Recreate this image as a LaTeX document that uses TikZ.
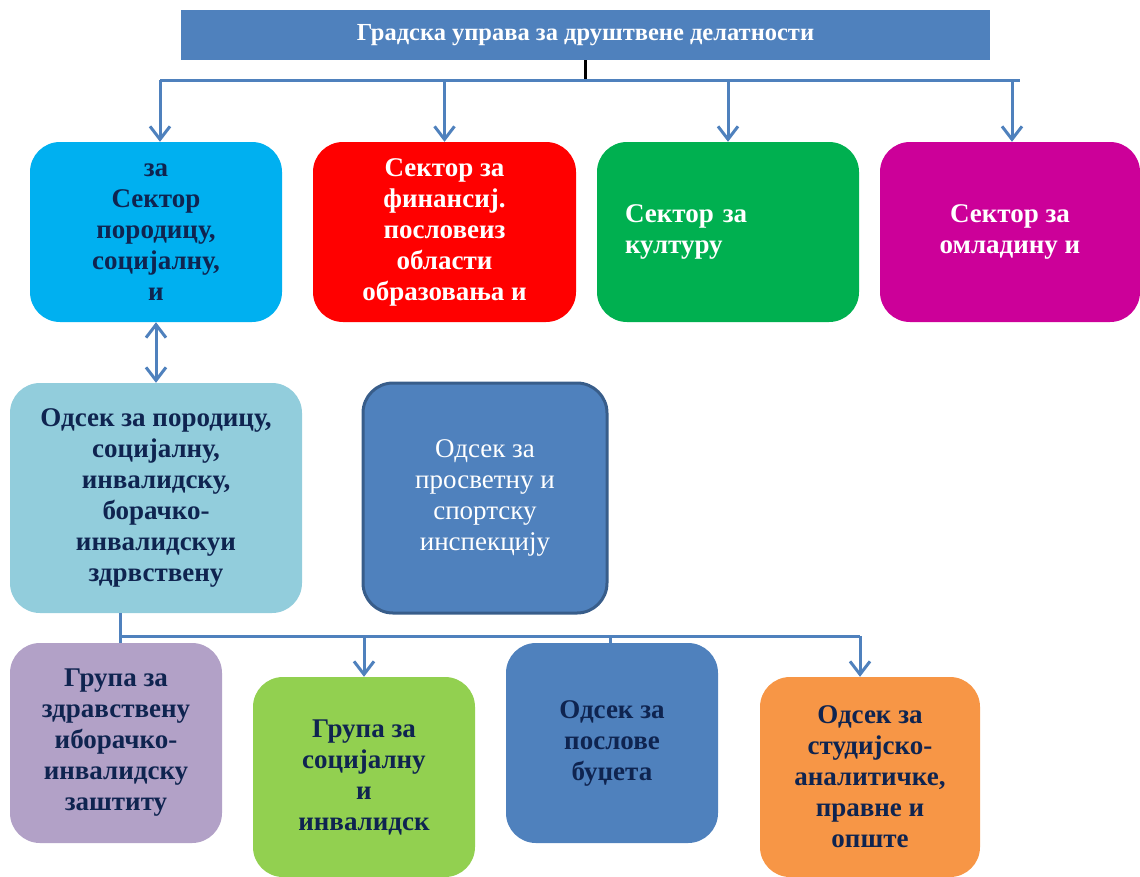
\documentclass[tikz,border=0pt]{standalone}
\usepackage{fontspec}
\setmainfont{Liberation Serif}
\usetikzlibrary{arrows.meta}
\usepackage{xcolor}

\definecolor{uprava}{RGB}{79,129,189}
\definecolor{uokvir}{RGB}{56,93,138}
\definecolor{tamno}{RGB}{15,36,80}
\definecolor{cijan}{RGB}{0,176,240}
\definecolor{crvena}{RGB}{255,0,0}
\definecolor{zelena}{RGB}{0,176,80}
\definecolor{magenta}{RGB}{204,0,153}
\definecolor{svplava}{RGB}{146,205,220}
\definecolor{lila}{RGB}{178,161,199}
\definecolor{limun}{RGB}{146,208,80}
\definecolor{narandz}{RGB}{247,150,70}

\tikzset{
  kutija/.style={rounded corners=30pt, inner sep=0pt, align=center, text=tamno,
    font=\fontsize{27}{31}\selectfont\bfseries},
  veza/.style={draw=uprava, line width=3pt},
  vrh/.tip={Straight Barb[length=13pt,width=20pt]},
  strela/.style={veza, -vrh},
}

\begin{document}
\begin{tikzpicture}[x=1pt,y=1pt,yscale=-1,xscale=1]
\useasboundingbox (0,0) rectangle (1140,876);

%Shape: Rectangle
\node (uprava) [fill=uprava, text=white, minimum width=809, minimum height=50, inner sep=0pt,
  font=\fontsize{24.5}{29}\selectfont\bfseries] at (585.5,35) {Градска управа за друштвене делатности};

%Shape: Rounded Rect
\node (sporod) [kutija, fill=cijan, minimum width=252, minimum height=180] at (156,232)
  {за\\Сектор\\породицу,\\социјалну,\\и};
%Shape: Rounded Rect
\node (sfin) [kutija, fill=crvena, text=white, minimum width=263, minimum height=180] at (444.5,232)
  {Сектор за\\финансиј.\\пословеиз\\области\\образовања и};
%Shape: Rounded Rect
\node (skult) [kutija, fill=zelena, text=white, minimum height=180, align=left,
  inner xsep=28pt, text width=206pt] at (728,232) {Сектор за\\културу};
%Shape: Rounded Rect
\node (somlad) [kutija, fill=magenta, text=white, minimum width=260, minimum height=180] at (1010,232)
  {Сектор за\\омладину и};

%Shape: Rounded Rect
\node (oporod) [kutija, fill=svplava, minimum width=292, minimum height=230] at (156,498)
  {Одсек за породицу,\\социјалну,\\инвалидску,\\борачко-\\инвалидскуи\\здрвствену};
%Shape: Rounded Rect
\node (oinsp) [kutija, fill=uprava, draw=uokvir, line width=3pt, text=white, font=\fontsize{27}{31}\selectfont,
  minimum width=244, minimum height=230] at (485,498)
  {Одсек за\\просветну и\\спортску\\инспекцију};

%Shape: Rounded Rect
\node (gzdrav) [kutija, fill=lila, minimum width=212, minimum height=200] at (116,743)
  {Група за\\здравствену\\иборачко-\\инвалидску\\заштиту};
%Shape: Rounded Rect
\node (gsoc) [kutija, fill=limun, minimum width=222, minimum height=200] at (364,777)
  {Група за\\социјалну\\и\\инвалидск};
%Shape: Rounded Rect
\node (obudz) [kutija, fill=uprava, minimum width=212, minimum height=200] at (612,743)
  {Одсек за\\послове\\буџета};
%Shape: Rounded Rect
\node (ostud) [kutija, fill=narandz, minimum width=220, minimum height=200] at (870,777)
  {Одсек за\\студијско-\\аналитичке,\\правне и\\опште};

%Straight Lines
\coordinate (gornjaL) at (160,80);
\coordinate (gornjaD) at (1020,80);
\draw [black, line width=3pt] (uprava.south) -- (uprava.south |- gornjaL);
\draw [veza] (gornjaL) -- (gornjaD);
\draw [strela] (gornjaL) -- (sporod.north -| gornjaL);
\draw [strela] (sfin.north |- gornjaL) -- (sfin.north);
\draw [strela] (skult.north |- gornjaL) -- (skult.north);
\draw [strela] (1012,80) -- (somlad.north -| 1012,0);

\draw [veza, vrh-vrh] (sporod.south) -- (oporod.north);

\coordinate (donjaL) at (120,636);
\coordinate (donjaD) at (860,636);
\draw [veza] (oporod.south -| donjaL) -- (gzdrav.north -| donjaL);
\draw [veza] (donjaL) -- (donjaD);
\draw [strela] (gsoc.north |- donjaL) -- (gsoc.north);
\draw [veza] (610,636) -- (obudz.north -| 610,0);
\draw [strela] (donjaD) -- (ostud.north -| donjaD);

\end{tikzpicture}
\end{document}
